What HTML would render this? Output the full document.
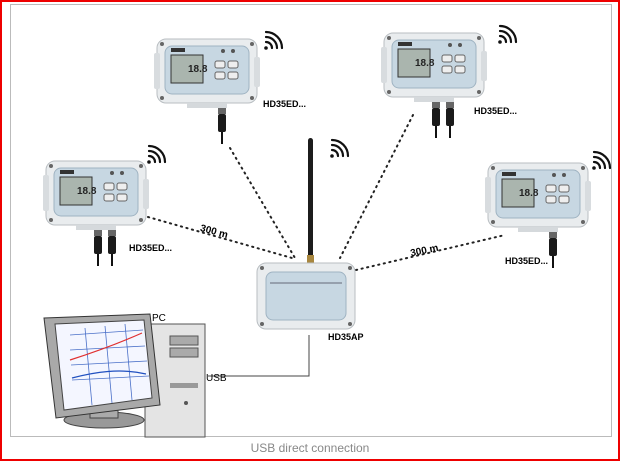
<!DOCTYPE html>
<html><head><style>
html,body{margin:0;padding:0;background:#fff}
svg{display:block}
text{font-family:"Liberation Sans",sans-serif}
</style></head><body>
<svg width="620" height="461" viewBox="0 0 620 461" xmlns="http://www.w3.org/2000/svg">
<defs>
<g id="dev">
  <rect x="0" y="0" width="100" height="64" rx="9" fill="#e9ecee" stroke="#b9bec2"/>
  <rect x="-3" y="14" width="6" height="36" rx="2" fill="#d8dcdf"/>
  <rect x="97" y="18" width="6" height="30" rx="2" fill="#d8dcdf"/>
  <rect x="8" y="7" width="84" height="48" rx="7" fill="#c7d7e2" stroke="#9fb3c2"/>
  <rect x="14" y="16" width="32" height="28" fill="#aab5ae" stroke="#333"/>
  <text x="31" y="33" font-size="10" font-weight="bold" fill="#222">18.8</text>
  <rect x="14" y="9" width="14" height="4" fill="#333"/>
  <circle cx="66" cy="12" r="2" fill="#555"/><circle cx="76" cy="12" r="2" fill="#555"/>
  <rect x="58" y="22" width="10" height="7" rx="2" fill="#eee" stroke="#666"/>
  <rect x="71" y="22" width="10" height="7" rx="2" fill="#eee" stroke="#666"/>
  <rect x="58" y="33" width="10" height="7" rx="2" fill="#eee" stroke="#666"/>
  <rect x="71" y="33" width="10" height="7" rx="2" fill="#eee" stroke="#666"/>
  <circle cx="5" cy="5" r="2" fill="#666"/><circle cx="95" cy="5" r="2" fill="#666"/>
  <circle cx="5" cy="59" r="2" fill="#666"/><circle cx="95" cy="59" r="2" fill="#666"/>
  <rect x="30" y="64" width="40" height="5" fill="#d5d9dc"/>
</g>
<g id="wifi" fill="none" stroke="#111" stroke-width="2.2" stroke-linecap="round">
  <circle cx="0" cy="0" r="1.8" fill="#111" stroke="none"/>
  <path d="M0,-6 A6,6 0 0 1 6,0"/>
  <path d="M0,-11 A11,11 0 0 1 11,0"/>
  <path d="M0,-16 A16,16 0 0 1 16,0"/>
</g>
<g id="cable">
  <rect x="-4" y="0" width="8" height="6" fill="#666"/>
  <rect x="-4" y="6" width="8" height="18" rx="2" fill="#1a1a1a"/>
  <rect x="-1" y="24" width="2" height="12" fill="#111"/>
</g>
</defs>
<rect x="0" y="0" width="620" height="461" fill="#fff"/>
<rect x="1" y="1" width="618" height="459" fill="none" stroke="#e00" stroke-width="2"/>
<rect x="10.5" y="4.5" width="601" height="432" fill="#fff" stroke="#bbb"/>
<text x="310" y="452" font-size="12" fill="#888" text-anchor="middle">USB direct connection</text>

<g stroke="#222" stroke-width="2" stroke-dasharray="1.2,4.5" stroke-linecap="round" fill="none">
  <line x1="148" y1="217" x2="292" y2="258"/>
  <line x1="230" y1="148" x2="295" y2="258"/>
  <line x1="413" y1="115" x2="340" y2="258"/>
  <line x1="356" y1="270" x2="505" y2="235"/>
</g>
<text x="200" y="234" font-size="10" font-weight="bold" transform="rotate(15 212 231)">300 m</text>
<text x="410" y="254" font-size="10" font-weight="bold" transform="rotate(-12 422 250)">300 m</text>

<polyline points="208,376 309,376 309,335" fill="none" stroke="#444" stroke-width="1"/>

<use href="#dev" x="157" y="39"/>
<use href="#cable" x="222" y="108"/>
<use href="#wifi" x="266" y="48"/>
<text x="263" y="107" font-size="9" font-weight="bold">HD35ED...</text>

<use href="#dev" x="384" y="33"/>
<use href="#cable" x="436" y="102"/><use href="#cable" x="450" y="102"/>
<use href="#wifi" x="500" y="42"/>
<text x="474" y="114" font-size="9" font-weight="bold">HD35ED...</text>

<use href="#dev" x="46" y="161"/>
<use href="#cable" x="98" y="230"/><use href="#cable" x="112" y="230"/>
<use href="#wifi" x="149" y="162"/>
<text x="129" y="251" font-size="9" font-weight="bold">HD35ED...</text>

<use href="#dev" x="488" y="163"/>
<use href="#cable" x="553" y="232"/>
<use href="#wifi" x="594" y="168"/>
<text x="505" y="264" font-size="9" font-weight="bold">HD35ED...</text>

<rect x="308" y="138" width="5" height="122" rx="2.5" fill="#1c1c1c"/>
<rect x="307" y="255" width="7" height="10" fill="#a8873f"/>
<use href="#wifi" x="332" y="156"/>
<rect x="257" y="263" width="98" height="66" rx="9" fill="#e9ecee" stroke="#b9bec2"/>
<rect x="266" y="272" width="80" height="48" rx="7" fill="#c7d7e2" stroke="#9fb3c2"/>
<line x1="270" y1="283" x2="342" y2="283" stroke="#445" stroke-width="0.8"/>
<circle cx="262" cy="268" r="2" fill="#666"/><circle cx="350" cy="268" r="2" fill="#666"/>
<circle cx="262" cy="324" r="2" fill="#666"/><circle cx="350" cy="324" r="2" fill="#666"/>
<text x="328" y="340" font-size="9" font-weight="bold">HD35AP</text>

<rect x="145" y="324" width="60" height="113" fill="#e4e4e4" stroke="#555"/>
<rect x="170" y="336" width="28" height="9" fill="#aaa" stroke="#555"/>
<rect x="170" y="348" width="28" height="9" fill="#aaa" stroke="#555"/>
<rect x="170" y="383" width="28" height="5" fill="#999"/>
<circle cx="186" cy="403" r="2" fill="#555"/>
<ellipse cx="104" cy="420" rx="40" ry="8" fill="#999" stroke="#444"/>
<rect x="90" y="406" width="28" height="12" fill="#aaa" stroke="#444"/>
<path d="M44,318 L150,314 L160,405 L56,418 Z" fill="#a9a9a9" stroke="#333"/>
<path d="M55,324 L144,320 L152,398 L64,410 Z" fill="#f4f6ff" stroke="#444"/>
<g stroke="#4a70c8" stroke-width="0.8">
  <line x1="70" y1="335" x2="143" y2="330"/><line x1="70" y1="350" x2="145" y2="346"/>
  <line x1="71" y1="365" x2="147" y2="361"/><line x1="72" y1="380" x2="149" y2="376"/>
  <line x1="85" y1="328" x2="92" y2="405"/><line x1="105" y1="326" x2="112" y2="403"/>
  <line x1="125" y1="324" x2="132" y2="400"/>
</g>
<path d="M70,360 C95,352 115,345 142,333" stroke="#e03030" stroke-width="1.2" fill="none"/>
<path d="M72,378 C95,372 120,368 146,374" stroke="#2050c0" stroke-width="1.2" fill="none"/>
<text x="152" y="321" font-size="10">PC</text>
<text x="206" y="381" font-size="10">USB</text>
</svg>
</body></html>
